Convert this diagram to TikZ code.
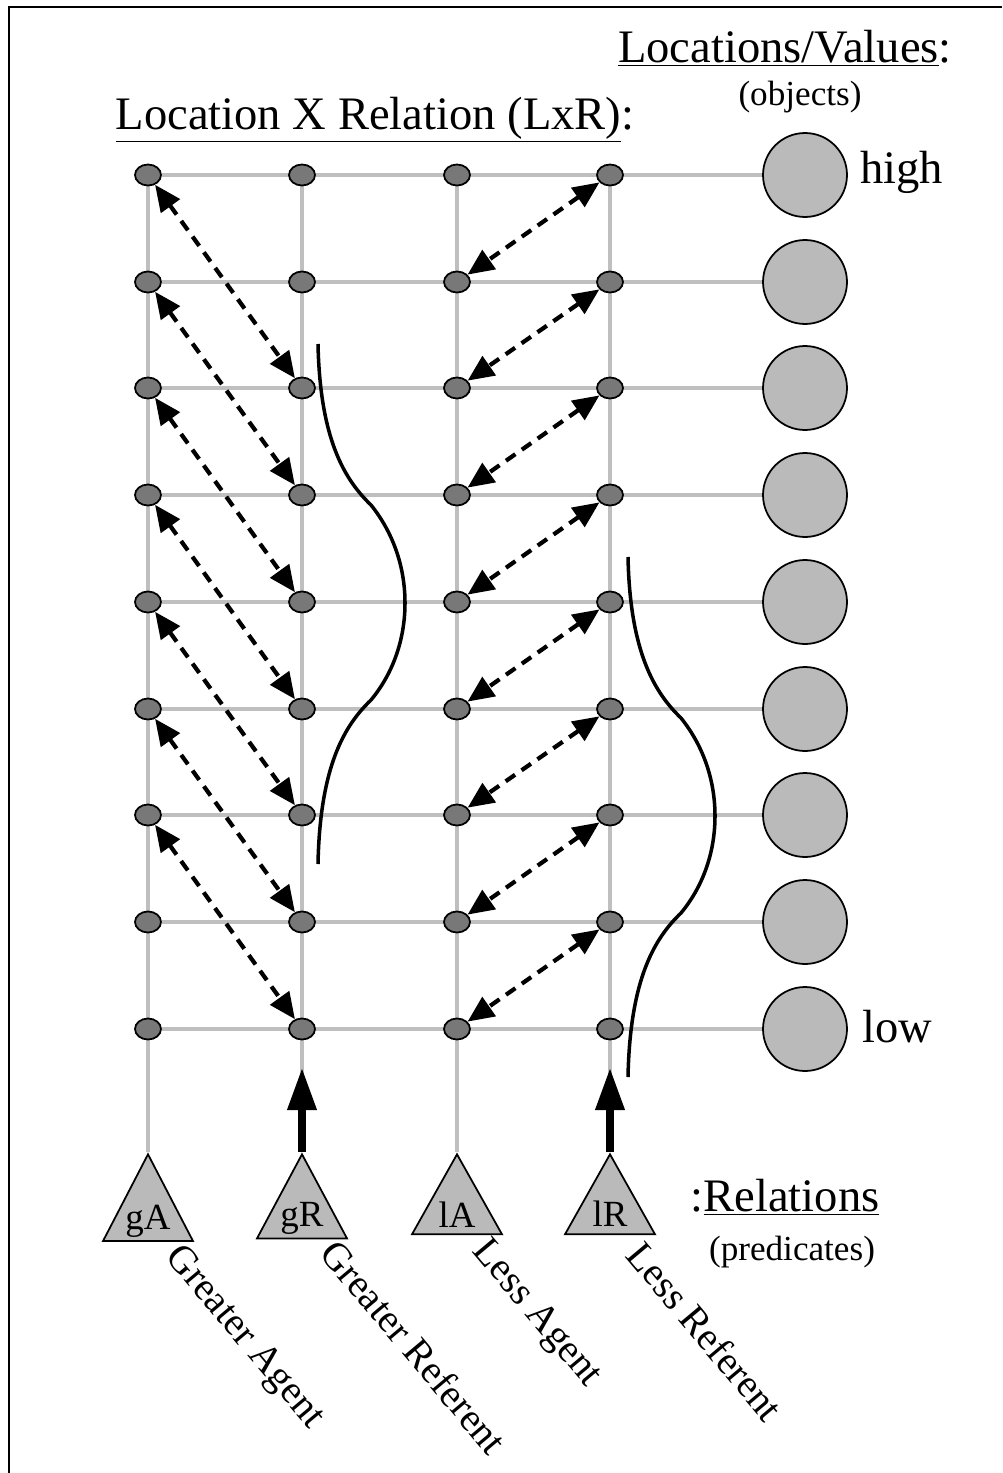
\documentclass[tikz,border=0pt]{standalone}
\usepackage{fontspec}
\setmainfont{Liberation Serif}
\usetikzlibrary{positioning}
\usetikzlibrary{shapes.geometric}
\usetikzlibrary{arrows.meta}
\usetikzlibrary{backgrounds}

\tikzset{
 dot/.style={ellipse,draw=black,line width=1pt,fill=black!53,minimum width=0.52cm,minimum height=0.42cm,inner sep=0pt},
 val/.style={circle,draw=black,line width=1pt,fill=black!27,minimum size=1.68cm,inner sep=0pt},
 rel/.style={isosceles triangle,isosceles triangle stretches,shape border rotate=90,draw=black,line width=1pt,fill=black!27,minimum width=1.8cm,minimum height=1.6cm,inner sep=0pt,font=\fontsize{21}{25}\selectfont},
 wire/.style={line width=2.2pt,black!25},
 link/.style={dash pattern=on 6.5pt off 4.5pt,line width=2.4pt,{Triangle[length=15pt,width=13pt]}-{Triangle[length=15pt,width=13pt]}},
 pull/.style={line width=4pt,-{Triangle[length=24pt,width=16pt]}},
 bump/.style={line width=2pt},
 bigtext/.style={font=\fontsize{26.5}{30}\selectfont},
 smalltext/.style={font=\fontsize{20}{24}\selectfont},
 relname/.style={font=\fontsize{22.5}{26}\selectfont,rotate=-50,anchor=north west,inner sep=0pt}
}

\begin{document}
\begin{tikzpicture}[x=0.02cm,y=-0.02cm]
 \useasboundingbox (0,0) rectangle (1002,1473);
 \draw[line width=1.7pt] (9,1473) -- (9,7) -- (1002,7);
 % grid of locations x relations
 \node[dot] (ga0) at (148,175) {}; \node[dot] (gr0) at (302,175) {}; \node[dot] (la0) at (457,175) {}; \node[dot] (lr0) at (610,175) {}; \node[val] (v0) at (805,175) {};
 \node[dot] (ga1) at (148,282) {}; \node[dot] (gr1) at (302,282) {}; \node[dot] (la1) at (457,282) {}; \node[dot] (lr1) at (610,282) {}; \node[val] (v1) at (805,282) {};
 \node[dot] (ga2) at (148,388) {}; \node[dot] (gr2) at (302,388) {}; \node[dot] (la2) at (457,388) {}; \node[dot] (lr2) at (610,388) {}; \node[val] (v2) at (805,388) {};
 \node[dot] (ga3) at (148,495) {}; \node[dot] (gr3) at (302,495) {}; \node[dot] (la3) at (457,495) {}; \node[dot] (lr3) at (610,495) {}; \node[val] (v3) at (805,495) {};
 \node[dot] (ga4) at (148,602) {}; \node[dot] (gr4) at (302,602) {}; \node[dot] (la4) at (457,602) {}; \node[dot] (lr4) at (610,602) {}; \node[val] (v4) at (805,602) {};
 \node[dot] (ga5) at (148,709) {}; \node[dot] (gr5) at (302,709) {}; \node[dot] (la5) at (457,709) {}; \node[dot] (lr5) at (610,709) {}; \node[val] (v5) at (805,709) {};
 \node[dot] (ga6) at (148,815) {}; \node[dot] (gr6) at (302,815) {}; \node[dot] (la6) at (457,815) {}; \node[dot] (lr6) at (610,815) {}; \node[val] (v6) at (805,815) {};
 \node[dot] (ga7) at (148,922) {}; \node[dot] (gr7) at (302,922) {}; \node[dot] (la7) at (457,922) {}; \node[dot] (lr7) at (610,922) {}; \node[val] (v7) at (805,922) {};
 \node[dot] (ga8) at (148,1029) {}; \node[dot] (gr8) at (302,1029) {}; \node[dot] (la8) at (457,1029) {}; \node[dot] (lr8) at (610,1029) {}; \node[val] (v8) at (805,1029) {};
 % relations
 \node[rel,anchor=apex] (ga) at (148,1152) {gA};
 \node[rel,anchor=apex] (gr) at (302,1152) {gR};
 \node[rel,anchor=apex] (la) at (457,1152) {lA};
 \node[rel,anchor=apex] (lr) at (610,1152) {lR};
 \begin{scope}[on background layer]
  \draw[wire] (ga0) -- (v0); \draw[wire] (ga1) -- (v1); \draw[wire] (ga2) -- (v2);
  \draw[wire] (ga3) -- (v3); \draw[wire] (ga4) -- (v4); \draw[wire] (ga5) -- (v5);
  \draw[wire] (ga6) -- (v6); \draw[wire] (ga7) -- (v7); \draw[wire] (ga8) -- (v8);
  \draw[wire] (ga0) -- (ga.apex); \draw[wire] (gr0) -- (gr.apex);
  \draw[wire] (la0) -- (la.apex); \draw[wire] (lr0) -- (lr.apex);
 \end{scope}
 % greater agent <-> greater referent
 \draw[link] (ga0) -- (gr2); \draw[link] (ga1) -- (gr3); \draw[link] (ga2) -- (gr4);
 \draw[link] (ga3) -- (gr5); \draw[link] (ga4) -- (gr6); \draw[link] (ga5) -- (gr7);
 \draw[link] (ga6) -- (gr8);
 % less referent <-> less agent
 \draw[link] (lr0) -- (la1); \draw[link] (lr1) -- (la2); \draw[link] (lr2) -- (la3);
 \draw[link] (lr3) -- (la4); \draw[link] (lr4) -- (la5); \draw[link] (lr5) -- (la6);
 \draw[link] (lr6) -- (la7); \draw[link] (lr7) -- (la8);
 % input arrows
 \coordinate (grtip) at (302,1068);
 \coordinate (lrtip) at (610,1068);
 \draw[pull] (gr.apex) -- (grtip);
 \draw[pull] (lr.apex) -- (lrtip);
 % bumps
 \draw[bump] (318,344) .. controls (320,440) and (345,480) .. (371,505) .. controls (395,535) and (405,570) .. (405,603) .. controls (405,636) and (395,671) .. (371,700) .. controls (345,725) and (320,765) .. (318,864);
 \draw[bump] (628,557) .. controls (630,653) and (655,693) .. (681,718) .. controls (705,748) and (715,783) .. (715,816) .. controls (715,849) and (705,884) .. (681,913) .. controls (655,938) and (630,978) .. (628,1077);
 % labels
 \node[bigtext] (lxr) at (375,120) {\underline{Location X Relation (LxR)}:};
 \node[bigtext] (locs) at (785,48) {\underline{Locations/Values}:};
 \node[smalltext] (objs) at (800,97) {(objects)};
 \node[bigtext,anchor=west,inner sep=0pt] (high) at (860,172) {high};
 \node[bigtext,anchor=west,inner sep=0pt] (low) at (862,1027) {low};
 \node[bigtext] (rels) at (785,1197) {:\underline{Relations}};
 \node[smalltext] (preds) at (792,1252) {(predicates)};
 \node[relname] (gan) at (185,1240) {Greater Agent};
 \node[relname] (grn) at (340,1236) {Greater Referent};
 \node[relname] (lan) at (492,1234) {Less Agent};
 \node[relname] (lrn) at (646,1238) {Less Referent};
\end{tikzpicture}
\end{document}
